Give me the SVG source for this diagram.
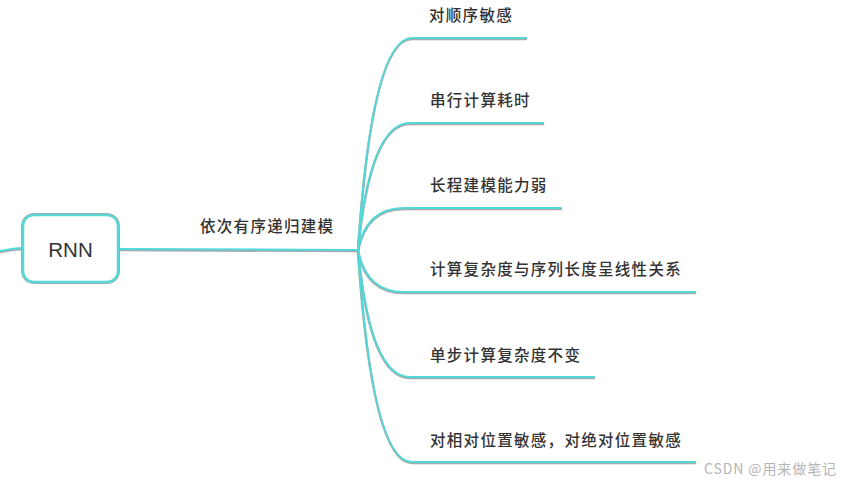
<svg xmlns="http://www.w3.org/2000/svg" width="848" height="485" viewBox="0 0 848 485">
<style>
.sh{fill:none;stroke:#a9a9a9;stroke-width:2.6;stroke-linecap:round}
.ln{fill:none;stroke:#52d8d8;stroke-width:2;stroke-linecap:round}
.t{font-family:"Noto Sans CJK SC","Liberation Sans",sans-serif;font-size:15.5px;font-weight:500;fill:#333;letter-spacing:1.3px}
.wm{font-family:"Noto Sans CJK SC","Liberation Sans",sans-serif;font-size:14px;fill:#b5b5b5;letter-spacing:0.9px}
</style>
<rect width="848" height="485" fill="#fff"/>
<g id="connectors">
<g transform="translate(0,1)">
<path class="sh" d="M0,251 C10,249 18,248 23,248"/>
<path class="sh" d="M118,249 L358,250"/>
<path class="sh" d="M358,250 Q372,38 412,38 L526,38"/>
<path class="sh" d="M358,250 Q370,123 410,123 L543,123"/>
<path class="sh" d="M358,250 Q366,208 404,208 L561,208"/>
<path class="sh" d="M358,250 Q366,292 404,292 L695,292"/>
<path class="sh" d="M358,250 Q370,377 410,377 L594,377"/>
<path class="sh" d="M358,250 Q372,462 412,462 L695,462"/>
</g>
<path class="ln" d="M0,251 C10,249 18,248 23,248"/>
<path class="ln" d="M118,249 L358,250"/>
<path class="ln" d="M358,250 Q372,38 412,38 L526,38"/>
<path class="ln" d="M358,250 Q370,123 410,123 L543,123"/>
<path class="ln" d="M358,250 Q366,208 404,208 L561,208"/>
<path class="ln" d="M358,250 Q366,292 404,292 L695,292"/>
<path class="ln" d="M358,250 Q370,377 410,377 L594,377"/>
<path class="ln" d="M358,250 Q372,462 412,462 L695,462"/>
<text class="t" x="200" y="232">依次有序递归建模</text>
</g>
<g id="rnn">
<rect x="23" y="215" width="95" height="67" rx="11" fill="#fff" stroke="#a9a9a9" stroke-width="4"/>
<rect x="23" y="215" width="95" height="67" rx="11" fill="#fff" stroke="#5ad8d8" stroke-width="2.5"/>
<text x="70.5" y="257" text-anchor="middle" font-family="Liberation Sans, Arial, sans-serif" font-size="20.5" fill="#333">RNN</text>
</g>
<g id="n1"><text class="t" x="429" y="21">对顺序敏感</text></g>
<g id="n2"><text class="t" x="430" y="106">串行计算耗时</text></g>
<g id="n3"><text class="t" x="430" y="191">长程建模能力弱</text></g>
<g id="n4"><text class="t" x="430" y="275">计算复杂度与序列长度呈线性关系</text></g>
<g id="n5"><text class="t" x="430" y="361">单步计算复杂度不变</text></g>
<g id="n6"><text class="t" x="430" y="446">对相对位置敏感，对绝对位置敏感</text></g>
<text class="wm" x="704" y="474">CSDN @用来做笔记</text>
</svg>
